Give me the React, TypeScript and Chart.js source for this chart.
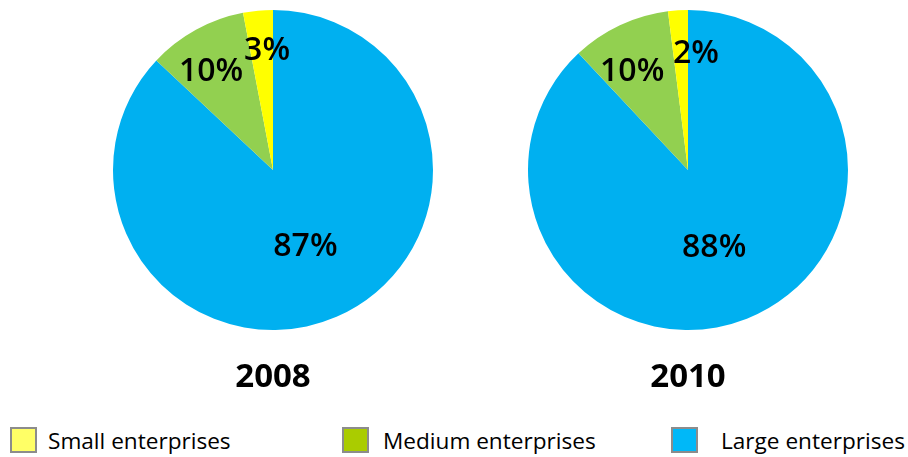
import React, { useEffect, useRef } from "react";
import { Chart, registerables } from "chart.js";

Chart.register(...registerables);

const categories = ["Large enterprises", "Medium enterprises", "Small enterprises"];
const years = ["2008", "2010"];
const values2008 = [87, 10, 3];
const values2010 = [88, 10, 2];
const sliceColors = ["#00B0F0", "#92D050", "#FFFF00"];

const legendOrder = ["Small enterprises", "Medium enterprises", "Large enterprises"];
const legendColors = ["#FFFF66", "#AACC00", "#00B8F8"];
const legendLeft = [10, 342, 671];
const legendTextLeft = [48, 383, 721];

// label placement: fraction of radius and angular nudge (degrees) per slice
const labelRadius2008 = [0.51, 0.74, 0.76];
const labelNudge2008 = [0, -2.7, 2.6];
const labelRadius2010 = [0.5, 0.72, 0.745];
const labelNudge2010 = [2.5, -3.8, 7.4];

const FONT = "'Open Sans', 'Noto Sans', sans-serif";

function makeLabelPlugin(radii: number[], nudges: number[]) {
  return {
    id: "pctLabels",
    afterDatasetsDraw(chart: any) {
      const ctx = chart.ctx;
      const meta = chart.getDatasetMeta(0);
      const data = chart.data.datasets[0].data as number[];
      ctx.save();
      ctx.font = `600 32px ${FONT}`;
      ctx.fillStyle = "#000";
      ctx.textAlign = "center";
      ctx.textBaseline = "alphabetic";
      meta.data.forEach((arc: any, i: number) => {
        const p = arc.getProps(["x", "y", "startAngle", "endAngle", "outerRadius"], true);
        const mid = (p.startAngle + p.endAngle) / 2 + (nudges[i] * Math.PI) / 180;
        const r = p.outerRadius * radii[i];
        const x = p.x + Math.cos(mid) * r;
        const y = p.y + Math.sin(mid) * r;
        ctx.fillText(`${data[i]}%`, x, y + 11.5);
      });
      ctx.restore();
    },
  };
}

function PieChart(props: { values: number[]; title: string; radii: number[]; nudges: number[]; left: number }) {
  const ref = useRef<HTMLCanvasElement | null>(null);
  useEffect(() => {
    if (!ref.current) return;
    const chart = new Chart(ref.current, {
      type: "pie",
      data: {
        labels: categories,
        datasets: [
          {
            data: props.values,
            backgroundColor: sliceColors,
            borderWidth: 0,
          },
        ],
      },
      options: {
        animation: false,
        responsive: false,
        maintainAspectRatio: false,
        layout: { padding: { top: 10, left: 20, right: 20, bottom: 0 } },
        plugins: {
          legend: { display: false },
          tooltip: { enabled: false },
          title: {
            display: true,
            text: props.title,
            position: "bottom",
            color: "#000",
            font: { family: FONT, size: 33, weight: "bold", lineHeight: 1.2 },
            padding: { top: 27.5, bottom: 2.9 },
          },
        },
      },
      plugins: [makeLabelPlugin(props.radii, props.nudges)],
    });
    return () => chart.destroy();
  }, []);
  return (
    <canvas
      ref={ref}
      width={360}
      height={400}
      style={{ position: "absolute", left: props.left, top: 0, width: 360, height: 400 }}
    />
  );
}

export default function App() {
  return (
    <div
      style={{
        position: "fixed",
        left: 0,
        top: 0,
        width: 908,
        height: 457,
        background: "#fff",
        overflow: "hidden",
        fontFamily: FONT,
      }}
    >
      <PieChart values={values2008} title={years[0]} radii={labelRadius2008} nudges={labelNudge2008} left={93} />
      <PieChart values={values2010} title={years[1]} radii={labelRadius2010} nudges={labelNudge2010} left={508} />
      {legendOrder.map((name, i) => (
        <React.Fragment key={name}>
          <div
            style={{
              position: "absolute",
              left: legendLeft[i],
              top: 427,
              width: 27,
              height: 26,
              boxSizing: "border-box",
              border: "2px solid #8C8C8C",
              background: legendColors[i],
            }}
          />
          <div
            style={{
              position: "absolute",
              left: legendTextLeft[i],
              top: 428.5,
              fontSize: 22.6,
              lineHeight: "24px",
              color: "#000",
              whiteSpace: "nowrap",
            }}
          >
            {name}
          </div>
        </React.Fragment>
      ))}
    </div>
  );
}
